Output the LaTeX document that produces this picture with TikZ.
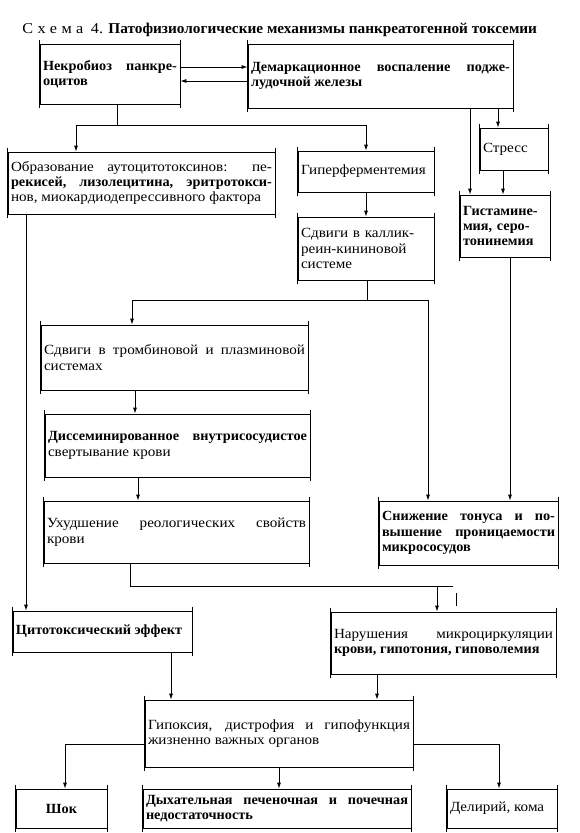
\documentclass[tikz,border=0pt]{standalone}
\usepackage{fontspec}
\setmainfont{Liberation Serif}[FakeStretch=1.08]
\newfontfamily\bffam{Liberation Serif}[FakeStretch=1.02]
\newcommand\mybold[1]{{\bffam\bfseries #1}}
\usetikzlibrary{arrows.meta}
\hyphenpenalty=10000
\tolerance=10000
\newcommand\mkbox[7][]{%
  \pgfmathsetmacro\mkW{#5-#3}%
  \pgfmathsetmacro\mkH{#6-#4}%
  \pgfmathsetmacro\mkT{#5-#3-6}%
  \pgfmathsetmacro\mkX{(#3+#5)/2}%
  \pgfmathsetmacro\mkY{(#4+#6)/2}%
  \node[box,#1,minimum width=\mkW pt,minimum height=\mkH pt,text width=\mkT pt] (#2) at (\mkX,\mkY) {#7};%
}
\begin{document}
\begin{tikzpicture}[x=1pt,y=-1pt,line width=0.8pt,
  box/.style={draw,inner xsep=3pt,inner ysep=1pt,align=justify,font=\fontsize{14}{15.4}\selectfont},
  bf/.style={font=\fontsize{14}{15.4}\selectfont\bffam\bfseries},
  arr/.style={-{Latex[length=6pt,width=4pt]}}]
\fill[white] (0,0) rectangle (579,833);
\useasboundingbox (0,0) rectangle (579,833);

\node[anchor=base west,inner sep=0pt,font=\fontsize{15}{16}\selectfont] (title) at (22,33)
  {{\addfontfeature{LetterSpace=30}Схема}\enspace 4. \mybold{Патофизиологические механизмы панкреатогенной токсемии}};

\mkbox[bf]{b1}{40}{44}{180}{104}{Некробиоз панкре-\linebreak оцитов}
\mkbox[bf]{b2}{248}{44}{513}{108}{Демаркационное воспаление подже-\linebreak лудочной железы}
\mkbox{obr}{8}{152}{275}{214}{Образование аутоцитотоксинов: пе-\linebreak \mybold{рекисей, лизолецитина, эритротокси-}\linebreak нов, миокардиодепрессивного фактора}
\mkbox{gip}{298}{151}{434}{192}{Гиперферментемия}
\mkbox[align=left]{stress}{480}{128}{548}{170}{Стресс}
\mkbox[bf,align=left]{gist}{460}{195}{550}{257}{Гистамине-\\мия, серо-\\тонинемия}
\mkbox[align=left]{kal}{298}{217}{434}{280}{Сдвиги в каллик-\\реин-кининовой\\системе}
\mkbox{trom}{41}{325}{308}{390}{Сдвиги в тромбиновой и плазминовой\linebreak системах}
\mkbox{diss}{45}{414}{310}{477}{\mybold{Диссеминированное внутрисосудистое}\linebreak свертывание крови}
\mkbox{uhud}{44}{501}{309}{563}{Ухудшение реологических свойств\linebreak крови}
\mkbox[bf]{snizh}{379}{501}{558}{565}{Снижение тонуса и по-\linebreak вышение проницаемости\linebreak микрососудов}
\mkbox[bf]{cyto}{13}{611}{192}{652}{Цитотоксический эффект}
\mkbox{narush}{331}{612}{556}{674}{Нарушения микроциркуляции\linebreak \mybold{крови, гипотония, гиповолемия}}
\mkbox{hyp}{145}{700}{413}{767}{Гипоксия, дистрофия и гипофункция\linebreak жизненно важных органов}
\mkbox[bf,align=center]{shok}{16}{789}{107}{828}{Шок}
\mkbox[bf]{dyh}{143}{789}{411}{828}{Дыхательная печеночная и почечная\linebreak недостаточность}
\mkbox{del}{447}{789}{557}{828}{Делирий, кома}

\foreach \n in {b1,b2,obr,gip,stress,gist,kal,trom,diss,uhud,snizh,cyto,narush,hyp,shok,dyh,del}{
  \draw ([yshift=4pt]\n.north west) -- ([yshift=-4pt]\n.south west);
  \draw ([yshift=4pt]\n.north east) -- ([yshift=-4pt]\n.south east);
}

% helper coordinates
\coordinate (j1) at (117,125);
\coordinate (j2) at (367,300);
\coordinate (j3) at (130,586);
\coordinate (j3e) at (453,586);
\coordinate (t1) at (456,593);
\coordinate (t2) at (456,606);
\coordinate (xa) at (76,0);
\coordinate (xb) at (132,0);
\coordinate (xc) at (428,0);
\coordinate (xd) at (470,0);
\coordinate (xe) at (498,0);
\coordinate (xf) at (503,0);
\coordinate (xg) at (510,0);
\coordinate (xh) at (26,0);
\coordinate (xi) at (135,0);
\coordinate (xj) at (138,0);
\coordinate (xk) at (437,0);
\coordinate (xl) at (171,0);
\coordinate (xm) at (377,0);
\coordinate (xn) at (65,0);
\coordinate (xo) at (499,0);
\coordinate (xp) at (279,0);
\coordinate (ya) at (0,67);
\coordinate (yb) at (0,81);
\coordinate (yc) at (0,744);

% top pair
\draw[arr] (b1.east |- ya) -- (b2.west |- ya);
\draw[arr] (b2.west |- yb) -- (b1.east |- yb);
% from b1
\draw (b1.south -| j1) -- (j1);
\draw[arr] (j1) -| (obr.north -| xa);
\draw[arr] (j1) -| (gip.north);
% right column
\draw[arr] (b2.south -| xd) -- (gist.north -| xd);
\draw[arr] (b2.south -| xe) -- (stress.north -| xe);
\draw[arr] (stress.south -| xf) -- (gist.north -| xf);
\draw[arr] (gist.south -| xg) -- (snizh.north -| xg);
% middle column
\draw[arr] (gip) -- (kal);
\draw (kal.south -| j2) -- (j2);
\draw[arr] (j2) -| (trom.north -| xb);
\draw[arr] (j2) -| (snizh.north -| xc);
\draw[arr] (trom.south -| xi) -- (diss.north -| xi);
\draw[arr] (diss.south -| xj) -- (uhud.north -| xj);
% left long line
\draw[arr] (obr.south -| xh) -- (cyto.north -| xh);
% from uhud
\draw (uhud.south -| j3) -- (j3) -- (j3e);
\draw[arr] (j3 -| xk) -- (narush.north -| xk);
\draw (t1) -- (t2);
% to hypoxia
\draw[arr] (cyto.south -| xl) -- (hyp.north -| xl);
\draw[arr] (narush.south -| xm) -- (hyp.north -| xm);
% from hypoxia
\draw[arr] (hyp.west |- yc) -| (shok.north -| xn);
\draw[arr] (hyp.south -| xp) -- (dyh.north -| xp);
\draw[arr] (hyp.east |- yc) -| (del.north -| xo);
\end{tikzpicture}
\end{document}
